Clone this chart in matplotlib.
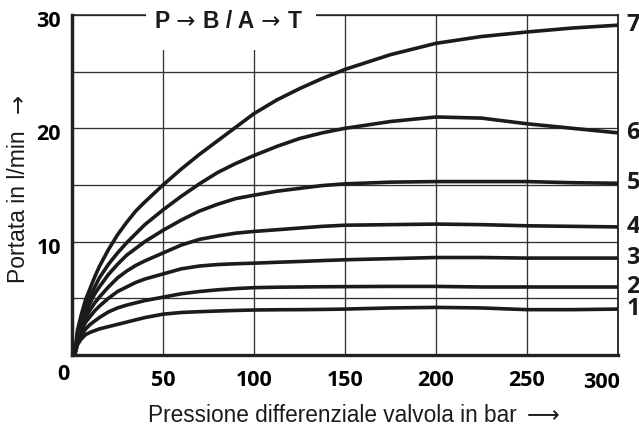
import matplotlib.pyplot as plt
from matplotlib.patches import Rectangle
from matplotlib.transforms import ScaledTranslation
from matplotlib.offsetbox import TextArea, HPacker, AnnotationBbox

# pressione differenziale (bar)
pressione = [1.5, 3, 5, 7.5, 10, 12.5, 15, 20, 25, 30, 35, 40, 50, 60, 70, 80, 90,
             100, 112.5, 125, 137.5, 150, 175, 200, 225, 250, 275, 300]

# portata (l/min) per ogni curva 1..7
curva_1 = [0, 0.9, 1.4, 1.8, 2.0, 2.15, 2.3, 2.5, 2.7, 2.9, 3.1, 3.3, 3.6, 3.75,
           3.82, 3.88, 3.93, 3.97, 3.99, 4.0, 4.02, 4.05, 4.15, 4.2, 4.15, 4.0, 4.0, 4.05]
curva_2 = [0, 1.1, 1.7, 2.3, 2.7, 3.0, 3.3, 3.8, 4.15, 4.4, 4.6, 4.8, 5.1, 5.4,
           5.6, 5.75, 5.86, 5.94, 5.98, 6.0, 6.02, 6.03, 6.05, 6.05, 6.0, 6.0, 6.0, 6.0]
curva_3 = [0, 1.3, 2.1, 2.9, 3.4, 3.9, 4.3, 5.0, 5.6, 6.0, 6.4, 6.7, 7.15, 7.6,
           7.85, 7.98, 8.05, 8.1, 8.18, 8.25, 8.33, 8.4, 8.5, 8.6, 8.6, 8.55, 8.55, 8.55]
curva_4 = [0, 1.5, 2.4, 3.3, 4.0, 4.6, 5.1, 6.0, 6.8, 7.4, 7.9, 8.3, 9.0, 9.7,
           10.2, 10.5, 10.75, 10.9, 11.05, 11.2, 11.35, 11.45, 11.5, 11.55, 11.5, 11.4, 11.35, 11.3]
curva_5 = [0, 1.7, 2.7, 3.8, 4.6, 5.4, 6.0, 7.1, 8.0, 8.8, 9.4, 10.0, 11.0, 11.9,
           12.7, 13.3, 13.8, 14.1, 14.45, 14.7, 14.95, 15.1, 15.25, 15.3, 15.3, 15.3, 15.2, 15.15]
curva_6 = [0, 1.9, 3.0, 4.3, 5.2, 6.0, 6.8, 8.0, 9.0, 9.9, 10.7, 11.5, 12.8, 14.0,
           15.1, 16.1, 16.9, 17.6, 18.4, 19.1, 19.6, 20.0, 20.6, 21.0, 20.9, 20.4, 20.0, 19.6]
curva_7 = [0, 2.2, 3.5, 4.9, 5.9, 6.9, 7.8, 9.3, 10.6, 11.7, 12.7, 13.5, 15.0, 16.4,
           17.7, 18.9, 20.1, 21.3, 22.5, 23.5, 24.4, 25.2, 26.5, 27.5, 28.1, 28.5, 28.85, 29.1]
curve = [curva_1, curva_2, curva_3, curva_4, curva_5, curva_6, curva_7]
nomi_curve = ['1', '2', '3', '4', '5', '6', '7']

x_ticks = [0, 50, 100, 150, 200, 250, 300]
y_ticks = [10, 20, 30]
y_minor = [5, 15, 25]

nero = '#1c1a1a'
griglia = '#333333'
sans = ['Liberation Sans', 'DejaVu Sans']

fig = plt.figure(figsize=(6.39, 4.28), dpi=100)
ax = fig.add_axes([0.1127, 0.1706, 0.8545, 0.7944])

for serie in curve:
    ax.plot(pressione, serie, color=nero, lw=2.6, solid_capstyle='round',
            solid_joinstyle='round', zorder=4)

ax.set_xlim(0, 300)
ax.set_ylim(0, 30)

# griglia e assi
ax.set_xticks(x_ticks)
ax.set_yticks(y_ticks)
ax.set_yticks(y_minor, minor=True)
ax.grid(True, which='both', color=griglia, lw=0.95)
ax.set_axisbelow(True)
ax.tick_params(which='both', length=0)
ax.tick_params(axis='x', pad=11)
ax.tick_params(axis='y', pad=8)

ax.spines['left'].set_linewidth(2.5)
ax.spines['bottom'].set_linewidth(2.4)
ax.spines['right'].set_linewidth(1.3)
ax.spines['top'].set_linewidth(1.1)
for s in ax.spines.values():
    s.set_color('#222222')

tick_font = dict(family=['Open Sans', 'DejaVu Sans'], weight='bold', size=15.5)
ax.set_xticklabels([str(v) for v in x_ticks], **tick_font)
ax.set_yticklabels([str(v) for v in y_ticks], **tick_font)
for lab in ax.get_yticklabels():
    lab.set_transform(lab.get_transform() + ScaledTranslation(0, -4 / 100, fig.dpi_scale_trans))
xl = ax.get_xticklabels()
xl[0].set_transform(xl[0].get_transform() + ScaledTranslation(-9 / 100, 6 / 100, fig.dpi_scale_trans))
xl[-1].set_transform(xl[-1].get_transform() + ScaledTranslation(-16 / 100, -2 / 100, fig.dpi_scale_trans))

# numeri delle curve a destra
for serie, nome in zip(curve, nomi_curve):
    ax.annotate(nome, (300, serie[-1]), xytext=(6, 0), textcoords='offset points',
                ha='left', va='center', fontsize=17, weight='bold',
                family=['Liberation Sans Narrow', 'Open Sans', 'DejaVu Sans'],
                color=nero, annotation_clip=False)

# riquadro del titolo sopra la griglia
ax.add_patch(Rectangle((40.7, 26.9), 93.3, 4.5, facecolor='white', edgecolor='none',
                       zorder=5, clip_on=False))
lettere = dict(fontsize=16.5, weight='bold', family=sans, color=nero)
freccia = dict(fontsize=16.5, family=['DejaVu Sans'], color=nero)
pezzi = [TextArea('P', textprops=lettere),
         TextArea(' \u2192 ', textprops=freccia),
         TextArea('B / A', textprops=lettere),
         TextArea(' \u2192 ', textprops=freccia),
         TextArea('T', textprops=lettere)]
titolo = HPacker(children=pezzi, sep=0, pad=0, align='baseline')
ax.add_artist(AnnotationBbox(titolo, (85.7, 29.4), frameon=False, box_alignment=(0.5, 0.5),
                             zorder=6, annotation_clip=False))

# etichette degli assi
fig.text(148 / 639, (428 - 422) / 428, 'Pressione differenziale valvola in bar',
         ha='left', va='baseline', fontsize=16.3, family=sans, color=nero)
fig.text(559 / 639, (428 - 422) / 428, '\u27f6',
         ha='right', va='baseline', fontsize=16.5, family=['DejaVu Sans'], color=nero)
fig.text(18.5 / 639, (428 - 283) / 428, 'Portata in l/min', rotation=90,
         ha='center', va='bottom', fontsize=16.5, family=sans, color=nero)
fig.text(18.5 / 639, 1 - 103 / 428, '\u2192', rotation=90,
         ha='center', va='center', fontsize=16.5, family=['DejaVu Sans'], color=nero)

fig.savefig('out.png', dpi=100, facecolor='white')
